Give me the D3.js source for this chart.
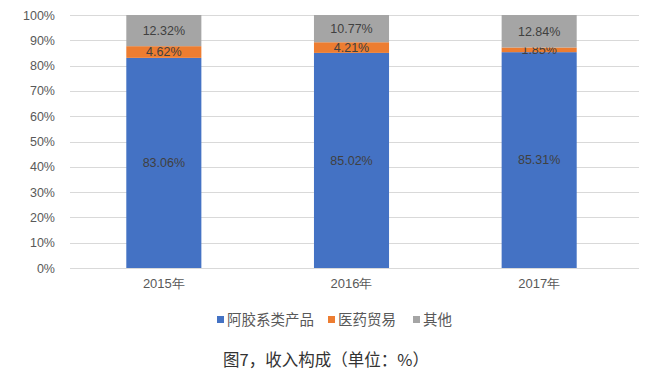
<!DOCTYPE html>
<html>
<head>
<meta charset="utf-8">
<title>收入构成</title>
<script src="https://cdn.jsdelivr.net/npm/d3@7"></script>
<style>
  body { margin: 0; background: #fff; }
  svg { display: block; font-family: "Noto Sans CJK SC", "Microsoft YaHei", sans-serif; }
</style>
</head>
<body>
<div id="chart"></div>
<script>
// chart data
var years = ["2015年", "2016年", "2017年"];
var seriesNames = ["阿胶系类产品", "医药贸易", "其他"];
var ejiaoValues = [83.06, 85.02, 85.31];
var tradeValues = [4.62, 4.21, 1.85];
var otherValues = [12.32, 10.77, 12.84];
var tickValues = [0, 10, 20, 30, 40, 50, 60, 70, 80, 90, 100];
var colors = ["#4472c4", "#ed7d31", "#a5a5a5"];

var width = 663, height = 377;
var plot = { left: 70, right: 639, top: 15, bottom: 268 };

var svg = d3.select("#chart").append("svg")
    .attr("width", width)
    .attr("height", height);

// build the rows for the stack from the arrays
var rows = years.map(function(y, i) {
    return { year: y, s0: ejiaoValues[i], s1: tradeValues[i], s2: otherValues[i] };
});
var stacked = d3.stack().keys(["s0", "s1", "s2"])(rows);

var x = d3.scaleBand().domain(years).range([plot.left, 633]).paddingInner(0.6).paddingOuter(0.3);
var y = d3.scaleLinear().domain([0, 100]).range([plot.bottom, plot.top]);

// gridlines
svg.append("g").selectAll("line")
    .data(tickValues)
    .enter().append("line")
    .attr("x1", plot.left).attr("x2", plot.right)
    .attr("y1", function(d) { return Math.round(y(d)) + 0.5; })
    .attr("y2", function(d) { return Math.round(y(d)) + 0.5; })
    .attr("stroke", "#d9d9d9")
    .attr("stroke-width", 1);

// y axis labels
var yAxis = d3.axisLeft(y).tickValues(tickValues).tickSize(0).tickPadding(0)
    .tickFormat(function(d) { return d + "%"; });
svg.append("g")
    .attr("transform", "translate(55,0)")
    .call(yAxis)
    .call(function(g) { g.select(".domain").remove(); })
    .selectAll("text")
    .attr("fill", "#595959")
    .style("font-size", "12.5px")
    .style("font-family", "Liberation Sans, Arial, sans-serif");

// bars
var layers = svg.append("g").selectAll("g")
    .data(stacked)
    .enter().append("g")
    .attr("fill", function(d, i) { return colors[i]; });

layers.selectAll("rect")
    .data(function(d) { return d; })
    .enter().append("rect")
    .attr("x", function(d) { return x(d.data.year); })
    .attr("width", x.bandwidth())
    .attr("y", function(d) { return y(d[1]); })
    .attr("height", function(d) { return y(d[0]) - y(d[1]); });

// value labels
layers.selectAll("text")
    .data(function(d) { return d; })
    .enter().append("text")
    .attr("x", function(d) { return x(d.data.year) + x.bandwidth() / 2; })
    .attr("y", function(d) { return (y(d[0]) + y(d[1])) / 2; })
    .attr("dy", "0.35em")
    .attr("text-anchor", "middle")
    .attr("fill", "#404040")
    .style("font-size", "12.5px")
    .style("font-family", "Liberation Sans, Arial, sans-serif")
    .text(function(d) { return (d[1] - d[0]).toFixed(2) + "%"; });

// x axis
var xAxis = d3.axisBottom(x).tickSize(0).tickPadding(0);
svg.append("g")
    .attr("transform", "translate(0," + (plot.bottom + 11) + ")")
    .call(xAxis)
    .call(function(g) { g.select(".domain").remove(); })
    .selectAll("text")
    .attr("fill", "#595959")
    .style("font-size", "13px");

// legend
var legendX = [217, 328, 413];
var legend = svg.append("g").selectAll("g")
    .data(seriesNames)
    .enter().append("g")
    .attr("transform", function(d, i) { return "translate(" + legendX[i] + ",316)"; });
legend.append("rect")
    .attr("width", 7).attr("height", 7)
    .attr("fill", function(d, i) { return colors[i]; });
legend.append("text")
    .attr("x", 10).attr("y", 4)
    .attr("dy", "0.35em")
    .attr("fill", "#595959")
    .style("font-size", "14.5px")
    .text(function(d) { return d; });

// caption
svg.append("text")
    .attr("x", 326).attr("y", 360)
    .attr("text-anchor", "middle")
    .attr("dy", "0.35em")
    .attr("fill", "#333")
    .style("font-size", "16.5px")
    .text("图7，收入构成（单位：%）");
</script>
</body>
</html>
